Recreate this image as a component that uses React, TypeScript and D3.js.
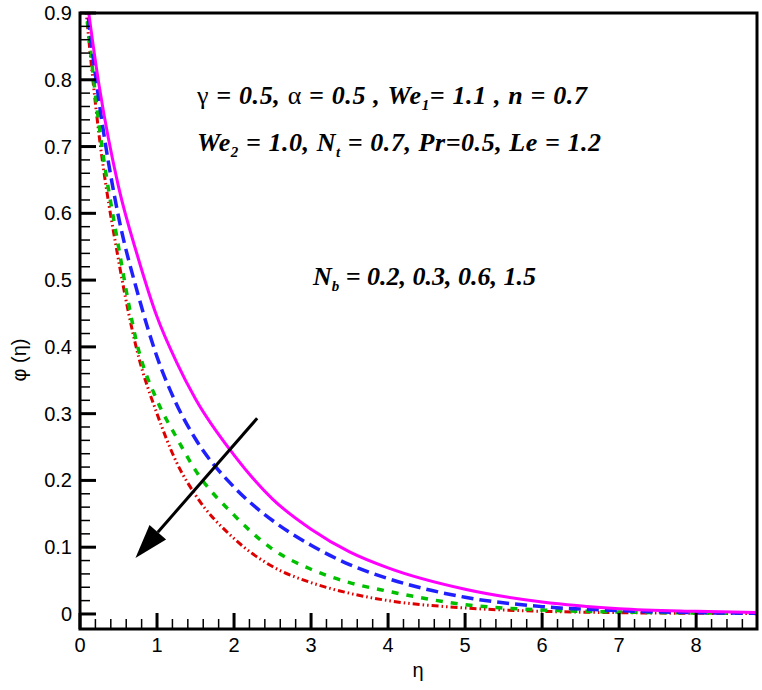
import React, { useEffect, useRef } from 'react';
import * as d3 from 'd3';

// eta grid and the four phi(eta) profiles
const eta = [0, 0.25, 0.5, 0.75, 1, 1.25, 1.5, 2, 2.5, 3, 3.5, 4, 5, 6, 7, 8, 8.8];
const phiMagenta = [1.0, 0.79, 0.64, 0.535, 0.445, 0.378, 0.322, 0.238, 0.172, 0.127, 0.093, 0.069, 0.037, 0.018, 0.008, 0.004, 0.002];
const phiBlue = [1.0, 0.765, 0.595, 0.48, 0.385, 0.315, 0.262, 0.19, 0.14, 0.103, 0.074, 0.053, 0.025, 0.011, 0.005, 0.002, 0.001];
const phiGreen = [1.0, 0.73, 0.55, 0.40, 0.32, 0.265, 0.215, 0.148, 0.097, 0.067, 0.047, 0.034, 0.014, 0.006, 0.003, 0.0015, 0.001];
const phiRed = [1.0, 0.715, 0.53, 0.39, 0.3, 0.228, 0.178, 0.113, 0.071, 0.047, 0.031, 0.020, 0.009, 0.004, 0.002, 0.001, 0.0005];

const xTicks = [0, 1, 2, 3, 4, 5, 6, 7, 8];
const yTicks = [0, 0.1, 0.2, 0.3, 0.4, 0.5, 0.6, 0.7, 0.8, 0.9];

// arrow annotation, data coords [eta, phi]
const arrowFrom = [2.3, 0.293];
const arrowTo = [0.72, 0.084];

const App = () => {
  const svgRef = useRef<SVGSVGElement>(null);

  useEffect(() => {
    const W = 762, H = 690;
    const left = 80, right = 757, top = 13, bottom = 629;

    const svg = d3.select(svgRef.current).attr('width', W).attr('height', H);
    svg.selectAll('*').remove();

    const x = d3.scaleLinear().domain([0, 8.79]).range([left, right]);
    const y = d3.scaleLinear().domain([-0.0225, 0.9]).range([bottom, top]);

    svg.append('defs').append('clipPath').attr('id', 'plot')
      .append('rect').attr('x', left).attr('y', top).attr('width', right - left).attr('height', bottom - top);

    const series = [
      { v: phiRed, color: '#dd0000', dash: '7,3,1.5,3,1.5,3', w: 3 },
      { v: phiGreen, color: '#00c000', dash: '7,8', w: 3.5 },
      { v: phiBlue, color: '#2020ff', dash: '12,6', w: 3.5 },
      { v: phiMagenta, color: '#ff00ff', dash: null, w: 3 },
    ];

    const line = d3.line<number>()
      .x((d, i) => x(eta[i]))
      .y(d => y(d))
      .curve(d3.curveMonotoneX);

    const g = svg.append('g').attr('clip-path', 'url(#plot)');
    series.forEach(s => {
      const p = g.append('path')
        .datum(s.v)
        .attr('fill', 'none')
        .attr('stroke', s.color)
        .attr('stroke-width', s.w)
        .attr('d', line);
      if (s.dash) p.attr('stroke-dasharray', s.dash);
    });

    // ticks
    const ax = svg.append('g').attr('stroke', 'black');
    d3.range(0, 8.79, 0.2).forEach(t => {
      const major = Math.abs(t - Math.round(t)) < 1e-6;
      ax.append('line')
        .attr('x1', x(t)).attr('x2', x(t))
        .attr('y1', bottom).attr('y2', bottom - (major ? 16 : 10))
        .attr('stroke-width', major ? 3 : 1.5);
    });
    d3.range(0, 0.9001, 0.02).forEach(t => {
      const major = Math.abs(t * 10 - Math.round(t * 10)) < 1e-6;
      ax.append('line')
        .attr('x1', left).attr('x2', left + (major ? 16 : 10))
        .attr('y1', y(t)).attr('y2', y(t))
        .attr('stroke-width', major ? 3 : 1.5);
    });

    svg.append('rect')
      .attr('x', left).attr('y', top)
      .attr('width', right - left).attr('height', bottom - top)
      .attr('fill', 'none').attr('stroke', 'black').attr('stroke-width', 3);

    const font = 'Liberation Sans, Arial, sans-serif';
    svg.append('g').selectAll('text').data(xTicks).join('text')
      .attr('x', d => x(d)).attr('y', 652)
      .attr('text-anchor', 'middle')
      .attr('font-family', font).attr('font-size', 20)
      .text(d => String(d));
    svg.append('g').selectAll('text').data(yTicks).join('text')
      .attr('x', 72).attr('y', d => y(d) + 7)
      .attr('text-anchor', 'end')
      .attr('font-family', font).attr('font-size', 20)
      .text(d => (d === 0 ? '0' : d.toFixed(1)));

    svg.append('text')
      .attr('x', 418).attr('y', 677)
      .attr('text-anchor', 'middle')
      .attr('font-family', font).attr('font-size', 20)
      .text('η');
    svg.append('text')
      .attr('transform', 'translate(26,360) rotate(-90)')
      .attr('text-anchor', 'middle')
      .attr('font-family', font).attr('font-size', 20)
      .text('φ (η)');

    // arrow
    const [x1, y1] = [x(arrowFrom[0]), y(arrowFrom[1])];
    const [x2, y2] = [x(arrowTo[0]), y(arrowTo[1])];
    const ang = Math.atan2(y2 - y1, x2 - x1);
    const headLen = 34, headW = 11;
    const bx = x2 - headLen * Math.cos(ang), by = y2 - headLen * Math.sin(ang);
    svg.append('line')
      .attr('x1', x1).attr('y1', y1).attr('x2', bx).attr('y2', by)
      .attr('stroke', 'black').attr('stroke-width', 3);
    svg.append('path')
      .attr('d', `M${x2},${y2}L${bx + headW * Math.sin(ang)},${by - headW * Math.cos(ang)}L${bx - headW * Math.sin(ang)},${by + headW * Math.cos(ang)}Z`)
      .attr('fill', 'black');
  }, []);

  const serif = 'Liberation Serif, Times New Roman, serif';
  const ann = { fontFamily: serif, fontSize: 26, fontWeight: 'bold' as const, fontStyle: 'italic' as const };
  const up = { fontStyle: 'normal' as const, fontWeight: 'normal' as const };

  return (
    <div style={{ position: 'absolute', left: 0, top: 0 }}>
      <svg ref={svgRef} style={{ display: 'block', background: 'white' }}>
      </svg>
      <svg width={762} height={690} style={{ position: 'absolute', left: 0, top: 0 }}>
        <text x={197} y={104} textLength={390} lengthAdjust="spacing" {...ann}>
          <tspan {...up}>γ</tspan> = 0.5, <tspan {...up}>α</tspan> = 0.5 , We<tspan dy={6} fontSize={15}>1</tspan><tspan dy={-6}>= 1.1 , n = 0.7</tspan>
        </text>
        <text x={197} y={151} textLength={404} lengthAdjust="spacing" {...ann}>
          We<tspan dy={6} fontSize={15}>2</tspan><tspan dy={-6}> = 1.0,  N</tspan><tspan dy={6} fontSize={15}>t</tspan><tspan dy={-6}> = 0.7, Pr=0.5,  Le = 1.2</tspan>
        </text>
        <text x={313} y={285} {...ann}>
          N<tspan dy={6} fontSize={15}>b</tspan><tspan dy={-6}> = 0.2, 0.3, 0.6, 1.5</tspan>
        </text>
      </svg>
    </div>
  );
};

export default App;
